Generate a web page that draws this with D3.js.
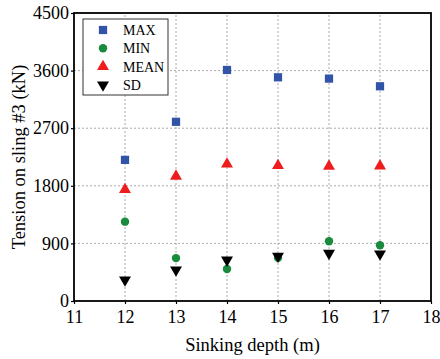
<!DOCTYPE html>
<html><head><meta charset="utf-8">
<script src="https://cdn.jsdelivr.net/npm/d3@7"></script>
<style>body{margin:0;background:#fff}svg{display:block}</style>
</head><body>
<script>
const depths = [12, 13, 14, 15, 16, 17];
const maxVals = [2205, 2800, 3610, 3495, 3475, 3355];
const minVals = [1240, 670, 500, 675, 935, 870];
const meanVals = [1740, 1950, 2140, 2115, 2105, 2110];
const sdVals = [330, 485, 640, 700, 745, 735];
const xTicks = [11, 12, 13, 14, 15, 16, 17, 18];
const yTicks = [0, 900, 1800, 2700, 3600, 4500];
const seriesNames = ["MAX", "MIN", "MEAN", "SD"];
const seriesColors = ["#3153a8", "#1a8a3e", "#ee1c1c", "#000000"];

const FONT = "Liberation Serif";
const W = 440, H = 359;
const m = {l: 74, r: 9, t: 13, b: 58};
const svg = d3.select("body").append("svg").attr("width", W).attr("height", H)
  .attr("font-family", FONT);
const x = d3.scaleLinear().domain([11, 18]).range([m.l, W - m.r]);
const y = d3.scaleLinear().domain([0, 4500]).range([H - m.b, m.t]);

// grid
const g = svg.append("g");
g.selectAll(".vg").data(xTicks.slice(1, -1)).join("line")
  .attr("x1", d => x(d)).attr("x2", d => x(d)).attr("y1", y(0)).attr("y2", y(4500))
  .attr("stroke", "#aaa").attr("stroke-width", 1).attr("stroke-dasharray", "2,2");
g.selectAll(".hg").data(yTicks.slice(1, -1)).join("line")
  .attr("x1", x(11)).attr("x2", x(18)).attr("y1", d => y(d)).attr("y2", d => y(d))
  .attr("stroke", "#aaa").attr("stroke-width", 1).attr("stroke-dasharray", "2,2");

// axes
const xa = svg.append("g").attr("transform", `translate(0,${y(0)})`)
  .call(d3.axisBottom(x).tickValues(xTicks).tickSize(3).tickPadding(6).tickFormat(d3.format("d")));
const ya = svg.append("g").attr("transform", `translate(${x(11)},0)`)
  .call(d3.axisLeft(y).tickValues(yTicks).tickSize(3).tickPadding(2).tickFormat(d3.format("d")));
[xa, ya].forEach(a => {
  a.attr("font-family", FONT).attr("font-size", 18);
  a.select(".domain").remove();
  a.selectAll("text").attr("fill", "#000").attr("font-family", FONT).attr("font-size", 18);
  a.selectAll("line").attr("stroke", "#000").attr("stroke-width", 1.2);
});
// frame
svg.append("rect").attr("x", x(11)).attr("y", y(4500)).attr("width", x(18) - x(11)).attr("height", y(0) - y(4500))
  .attr("fill", "none").attr("stroke", "#000").attr("stroke-width", 1.8);

// markers
const sym = [d3.symbolSquare, d3.symbolCircle, d3.symbolTriangle, d3.symbolTriangle];
const sizes = [68, 56, 62, 62];
const allVals = [maxVals, minVals, meanVals, sdVals];
function marker(sel, i) {
  sel.append("path").attr("d", d3.symbol().type(sym[i]).size(sizes[i])())
    .attr("fill", seriesColors[i])
    .attr("transform", i === 3 ? "rotate(180)" : null);
}
allVals.forEach((vals, i) => {
  depths.forEach((d, j) => {
    const gg = svg.append("g").attr("transform", `translate(${x(d)},${y(vals[j])})`);
    marker(gg, i);
  });
});

// legend
const lg = svg.append("g");
lg.append("rect").attr("x", 83).attr("y", 19).attr("width", 85).attr("height", 76)
  .attr("fill", "#fff").attr("stroke", "#333").attr("stroke-width", 1);
seriesNames.forEach((n, i) => {
  const yy = 30 + i * 18.3;
  const gg = lg.append("g").attr("transform", `translate(103,${yy})`);
  marker(gg, i);
  lg.append("text").attr("x", 123).attr("y", yy + 5).attr("font-size", 14).attr("font-family", FONT).text(n);
});

// axis titles
svg.append("text").attr("x", (x(11) + x(18)) / 2).attr("y", 351).attr("text-anchor", "middle")
  .attr("font-size", 18.5).attr("font-family", FONT).text("Sinking depth (m)");
svg.append("text").attr("transform", `translate(25,${(y(0) + y(4500)) / 2}) rotate(-90)`)
  .attr("text-anchor", "middle").attr("font-size", 18.5).attr("font-family", FONT).text("Tension on sling #3 (kN)");
</script>
</body></html>
